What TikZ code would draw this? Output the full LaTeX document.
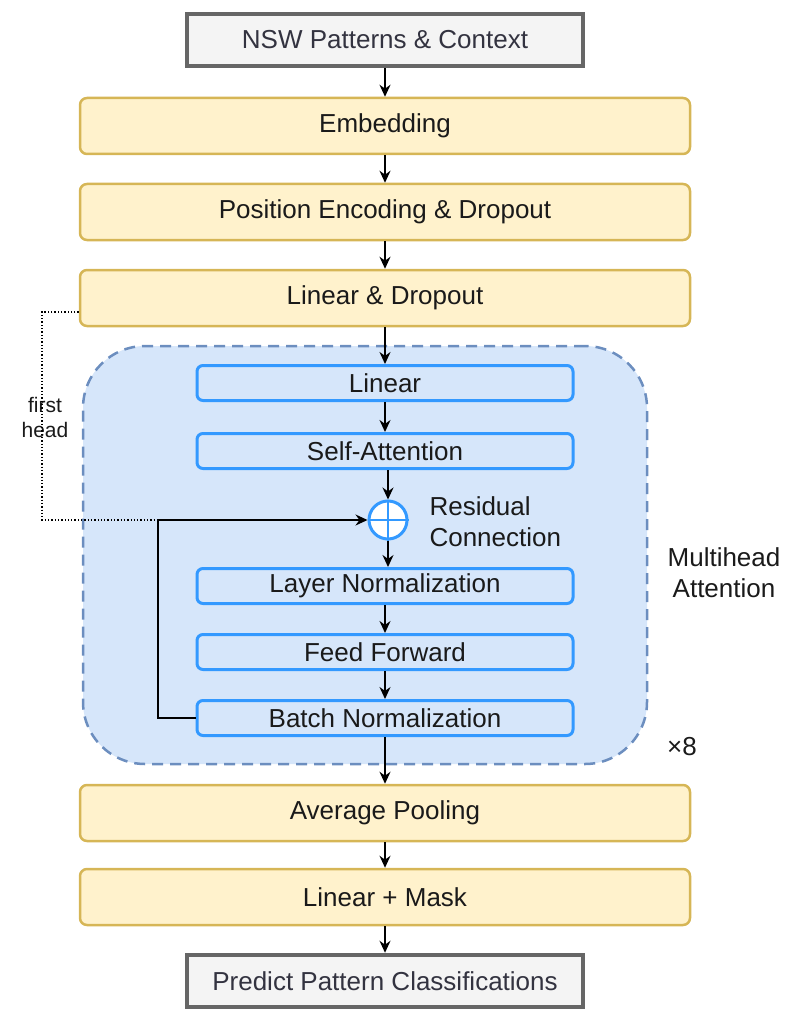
\documentclass[tikz,border=0pt]{standalone}
\usepackage{fontspec}
\setmainfont{Liberation Sans}
\usepackage{xcolor}
\usepackage{tikz}
\usetikzlibrary{arrows.meta}

\definecolor{ylwfill}{HTML}{FFF2CC}
\definecolor{ylwline}{HTML}{D6B656}
\definecolor{gryfill}{HTML}{F4F4F4}
\definecolor{gryline}{HTML}{666666}
\definecolor{blufill}{HTML}{D6E6FA}
\definecolor{bluline}{HTML}{6C8EBF}
\definecolor{brtblue}{HTML}{3399FF}
\definecolor{txt}{HTML}{1A1A1A}
\definecolor{iotxt}{HTML}{333340}

\begin{document}
\begin{tikzpicture}[
    x=1pt, y=-1pt,
    font=\fontsize{26}{31}\selectfont, text=txt,
    iobox/.style={draw=gryline, line width=4.5pt, fill=gryfill, minimum width=396pt, minimum height=52pt, text=iotxt},
    layer/.style={draw=ylwline, line width=2.5pt, fill=ylwfill, rounded corners=7pt, minimum width=610pt, minimum height=56pt},
    sublayer/.style={draw=brtblue, line width=3pt, fill=blufill, rounded corners=6pt, minimum width=376pt, minimum height=35pt},
    container/.style={draw=bluline, line width=2.5pt, dash pattern=on 11pt off 7pt, fill=blufill, rounded corners=62pt, minimum width=564pt, minimum height=418pt},
    arrow/.style={-{Stealth[length=12pt,width=11pt]}, line width=1.4pt}
]
    \useasboundingbox (0,0) rectangle (785,1011);

    % Input
    \node[iobox] (input) at (385,40) {NSW Patterns \& Context};

    % Embedding layers
    \node[layer] (embed) at (385,126) {Embedding};
    \node[layer] (posenc) at (385,212) {Position Encoding \& Dropout};
    \node[layer] (lindrop) at (385,298) {Linear \& Dropout};

    % Multihead attention block
    \node[container] (mha) at (365,555) {};
    \node[sublayer] (linear) at (385,383) {Linear};
    \node[sublayer] (selfatt) at (385,451) {Self-Attention};
    \node[circle, draw=brtblue, line width=3pt, fill=white, minimum size=38pt, inner sep=0pt] (resid) at (388,520) {};
    \draw[brtblue, line width=2.5pt] (resid.north) -- (resid.south) (resid.west) -- (resid.east);
    \node[sublayer] (layernorm) at (385,586) {Layer Normalization};
    \node[sublayer] (ff) at (385,652) {Feed Forward};
    \node[sublayer] (batchnorm) at (385,718) {Batch Normalization};

    % Labels
    \node[align=left, anchor=west] (residlbl) at (426,522) {Residual\\Connection};
    \node[align=center] (mhalbl) at (724,573) {Multihead\\Attention};
    \node (times) at (682,747) {\texttimes 8};
    \node[align=center, font=\fontsize{21}{25}\selectfont] (fhlbl) at (45,417) {first\\head};

    % Output layers
    \node[layer] (avgpool) at (385,813) {Average Pooling};
    \node[layer] (linmask) at (385,897) {Linear + Mask};
    \node[iobox] (output) at (385,981) {Predict Pattern Classifications};

    % Arrows
    \draw[arrow] (input) -- (embed);
    \draw[arrow] (embed) -- (posenc);
    \draw[arrow] (posenc) -- (lindrop);
    \draw[arrow] (lindrop) -- (linear);
    \draw[arrow] (linear) -- (selfatt);
    \draw[arrow] (selfatt.south -| resid) -- (resid);
    \draw[arrow] (resid) -- (layernorm.north -| resid);
    \draw[arrow] (layernorm) -- (ff);
    \draw[arrow] (ff) -- (batchnorm);
    \draw[arrow] (batchnorm) -- (avgpool);
    \draw[arrow] (avgpool) -- (linmask);
    \draw[arrow] (linmask) -- (output);

    % Residual and first head
    \coordinate (loop) at (158,520);
    \coordinate (fh) at (42,520);
    \draw[dotted, line width=1.3pt] ([yshift=-14pt]lindrop.west) -| (fh) -- (loop);
    \draw[arrow] (batchnorm.west) -| (loop) -- (resid.west);
\end{tikzpicture}
\end{document}
